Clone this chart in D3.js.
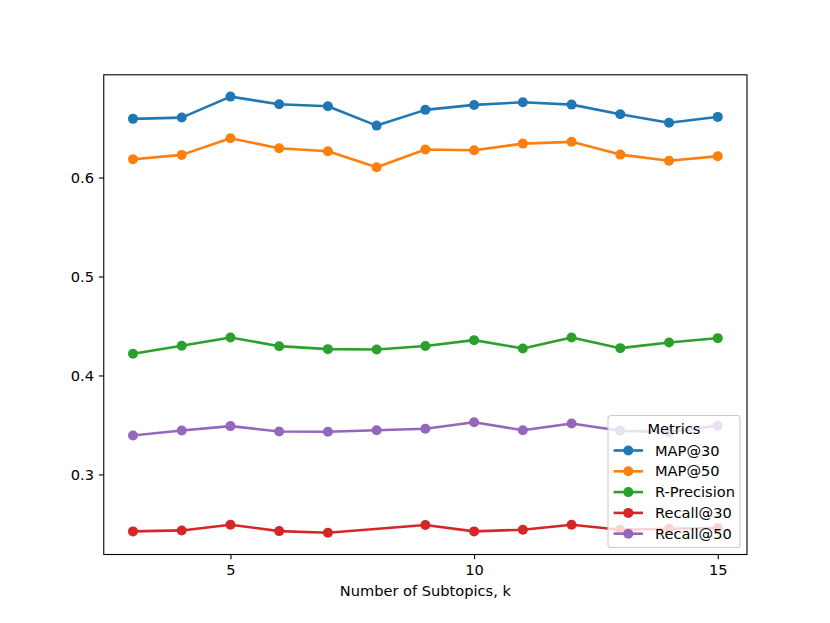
<!DOCTYPE html>
<html>
<head>
<meta charset="utf-8">
<script src="https://cdn.jsdelivr.net/npm/d3@7"></script>
<style>
  body { margin: 0; background: #fff; }
  svg { display: block; font-family: "DejaVu Sans", sans-serif; }
</style>
</head>
<body>
<svg id="chart" width="830" height="623"></svg>
<script>
// data
var ks = [3, 4, 5, 6, 7, 8, 9, 10, 11, 12, 13, 14, 15];
var map30 = [0.6593, 0.6606, 0.6818, 0.6740, 0.6720, 0.6525, 0.6684, 0.6734, 0.6761, 0.6737, 0.6639, 0.6553, 0.6613];
var map50 = [0.6185, 0.6229, 0.6397, 0.6296, 0.6266, 0.6104, 0.6283, 0.6276, 0.6343, 0.6361, 0.6232, 0.6169, 0.6215];
var rPrecision = [0.4219, 0.4300, 0.4384, 0.4296, 0.4266, 0.4263, 0.4298, 0.4357, 0.4273, 0.4384, 0.4276, 0.4333, 0.4377];
// no value for k = 8 in this one
var recall30 = [0.2424, 0.2434, 0.2492, 0.2427, 0.2411, null, 0.2488, 0.2424, 0.2441, 0.2492, 0.2441, 0.2451, 0.2458];
var recall50 = [0.3394, 0.3444, 0.3488, 0.3434, 0.3431, 0.3447, 0.3461, 0.3528, 0.3447, 0.3515, 0.3441, 0.3427, 0.3492];

var seriesNames = ['MAP@30', 'MAP@50', 'R-Precision', 'Recall@30', 'Recall@50'];
var seriesValues = [map30, map50, rPrecision, recall30, recall50];
var colors = ['#1f77b4', '#ff7f0e', '#2ca02c', '#d62728', '#9467bd'];
var xTicks = [5, 10, 15];
var yTicks = [0.3, 0.4, 0.5, 0.6];

var series = seriesNames.map(function(name, i) {
    return {
        name: name,
        color: colors[i],
        points: ks.map(function(k, j) { return { k: k, v: seriesValues[i][j] }; })
                  .filter(function(d) { return d.v !== null; })
    };
});

// matplotlib-like axes box
var svg = d3.select('#chart');
var W = +svg.attr('width'), H = +svg.attr('height');
var margin = { top: 74.8, right: W - 747, bottom: H - 554.5, left: 103.75 };
var width = W - margin.left - margin.right;
var height = H - margin.top - margin.bottom;

var g = svg.append('g')
    .attr('transform', 'translate(' + margin.left + ',' + margin.top + ')');

// scales with 5% padding like matplotlib
var xExtent = d3.extent(ks);
var xPad = (xExtent[1] - xExtent[0]) * 0.05;
var allValues = d3.merge(seriesValues).filter(function(v) { return v !== null; });
var yExtent = d3.extent(allValues);
var yPad = (yExtent[1] - yExtent[0]) * 0.05;

var xScale = d3.scaleLinear().domain([xExtent[0] - xPad, xExtent[1] + xPad]).range([0, width]);
var yScale = d3.scaleLinear().domain([yExtent[0] - yPad, yExtent[1] + yPad]).range([height, 0]);

var fontSize = 14.6;
var tickLen = 4.86;
var lineW = 2.6;
var markerR = 5;

// x axis
var xAxis = g.append('g')
    .attr('transform', 'translate(0,' + height + ')')
    .call(d3.axisBottom(xScale).tickValues(xTicks).tickSize(tickLen).tickPadding(4.86).tickFormat(d3.format('d')));
xAxis.select('.domain').remove();
xAxis.selectAll('line').attr('stroke', '#000').attr('stroke-width', 1.1);
xAxis.selectAll('text')
    .attr('fill', '#000')
    .style('font-size', fontSize + 'px')
    .style('font-family', '"DejaVu Sans", sans-serif');

// y axis
var yAxis = g.append('g')
    .call(d3.axisLeft(yScale).tickValues(yTicks).tickSize(tickLen).tickPadding(4.86).tickFormat(d3.format('.1f')));
yAxis.select('.domain').remove();
yAxis.selectAll('line').attr('stroke', '#000').attr('stroke-width', 1.1);
yAxis.selectAll('text')
    .attr('fill', '#000')
    .style('font-size', fontSize + 'px')
    .style('font-family', '"DejaVu Sans", sans-serif');

// axis label
g.append('text')
    .attr('x', width / 2)
    .attr('y', height + 42)
    .attr('text-anchor', 'middle')
    .attr('fill', '#000')
    .style('font-size', fontSize + 'px')
    .text('Number of Subtopics, k');

// lines and markers
var line = d3.line()
    .x(function(d) { return xScale(d.k); })
    .y(function(d) { return yScale(d.v); });

var plot = g.append('g');

series.forEach(function(s) {
    plot.append('path')
        .datum(s.points)
        .attr('fill', 'none')
        .attr('stroke', s.color)
        .attr('stroke-width', lineW)
        .attr('stroke-linejoin', 'round')
        .attr('stroke-linecap', 'square')
        .attr('d', line);

    plot.selectAll(null)
        .data(s.points)
        .enter().append('circle')
        .attr('cx', function(d) { return xScale(d.k); })
        .attr('cy', function(d) { return yScale(d.v); })
        .attr('r', markerR)
        .attr('fill', s.color);
});

// spines
g.append('rect')
    .attr('width', width)
    .attr('height', height)
    .attr('fill', 'none')
    .attr('stroke', '#000')
    .attr('stroke-width', 1.1);

// legend, lower right
var legW = 132, legH = 132;
var legend = g.append('g')
    .attr('transform', 'translate(' + (width - 7 - legW) + ',' + (height - 7 - legH) + ')');

legend.append('rect')
    .attr('width', legW)
    .attr('height', legH)
    .attr('rx', 2.8)
    .attr('fill', 'rgba(255,255,255,0.8)')
    .attr('stroke', '#cccccc')
    .attr('stroke-width', 1.1);

legend.append('text')
    .attr('x', legW / 2)
    .attr('y', 13)
    .attr('dy', '0.35em')
    .attr('text-anchor', 'middle')
    .attr('fill', '#000')
    .style('font-size', fontSize + 'px')
    .text('Metrics');

series.forEach(function(s, i) {
    var cy = 35 + i * 20.8;
    legend.append('line')
        .attr('x1', 5.6)
        .attr('x2', 35)
        .attr('y1', cy)
        .attr('y2', cy)
        .attr('stroke', s.color)
        .attr('stroke-width', lineW);
    legend.append('circle')
        .attr('cx', 20.3)
        .attr('cy', cy)
        .attr('r', markerR)
        .attr('fill', s.color);
    legend.append('text')
        .attr('x', 47)
        .attr('y', cy)
        .attr('dy', '0.35em')
        .attr('fill', '#000')
        .style('font-size', fontSize + 'px')
        .text(s.name);
});
</script>
</body>
</html>
